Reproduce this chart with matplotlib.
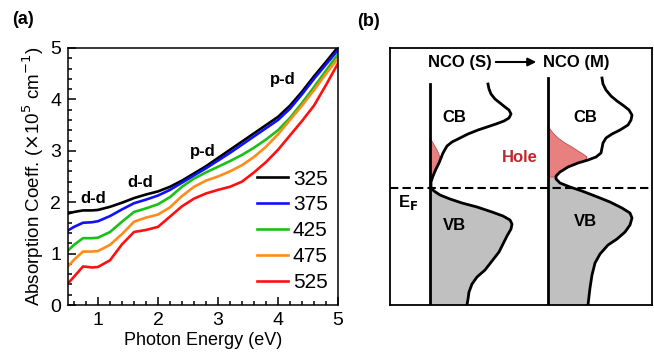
import matplotlib
matplotlib.use('Agg')
import matplotlib.pyplot as plt
from matplotlib.ticker import MultipleLocator

plt.rcParams['font.family'] = ['Liberation Sans', 'DejaVu Sans']

# ---- panel (a): absorption spectra ----
energy = [0.5, 0.6, 0.75, 0.9, 1.0, 1.2, 1.4, 1.6, 1.8, 2.0, 2.2, 2.4, 2.6,
          2.8, 3.0, 3.2, 3.4, 3.6, 3.8, 4.0, 4.2, 4.4, 4.6, 4.8, 5.0]
a325 = [1.78, 1.81, 1.84, 1.84, 1.85, 1.91, 1.99, 2.08, 2.15, 2.21, 2.30, 2.42, 2.56,
        2.70, 2.86, 3.02, 3.18, 3.34, 3.50, 3.66, 3.88, 4.15, 4.45, 4.73, 5.02]
a375 = [1.45, 1.52, 1.60, 1.61, 1.63, 1.73, 1.86, 1.98, 2.05, 2.13, 2.24, 2.38, 2.52,
        2.66, 2.81, 2.96, 3.12, 3.28, 3.44, 3.60, 3.82, 4.10, 4.40, 4.68, 4.96]
a425 = [1.06, 1.17, 1.30, 1.30, 1.31, 1.42, 1.62, 1.81, 1.88, 1.96, 2.10, 2.30, 2.46,
        2.58, 2.69, 2.80, 2.92, 3.06, 3.22, 3.40, 3.64, 3.93, 4.24, 4.56, 4.88]
a475 = [0.75, 0.88, 1.04, 1.04, 1.05, 1.17, 1.38, 1.62, 1.70, 1.76, 1.90, 2.12, 2.30,
        2.42, 2.50, 2.60, 2.72, 2.88, 3.08, 3.32, 3.60, 3.88, 4.18, 4.50, 4.80]
a525 = [0.42, 0.55, 0.75, 0.73, 0.74, 0.87, 1.18, 1.42, 1.46, 1.52, 1.72, 1.92, 2.07,
        2.17, 2.24, 2.30, 2.40, 2.58, 2.78, 3.02, 3.30, 3.58, 3.88, 4.28, 4.70]
temps = ['325', '375', '425', '475', '525']
colors = ['black', '#1010ff', '#18c018', '#ff8c1a', '#ff1010']
peaks = ['d-d', 'd-d', 'p-d', 'p-d']
peak_x = [0.92, 1.70, 2.75, 4.08]
peak_y = [2.08, 2.39, 2.98, 4.38]

# ---- panel (b): schematic DOS, drawn in box units ----
s_curve_x = [488, 489, 491, 495, 500, 505, 509, 511, 509, 504, 496, 487, 478, 468,
             460, 452, 447, 443, 441, 439, 436, 433, 431, 431, 434, 440, 450, 462,
             477, 492, 503, 510, 512, 511, 507, 503, 499, 492, 485, 477, 472, 469,
             468, 467]
s_curve_y = [84, 89, 94, 99, 103, 107, 110, 114, 118, 121, 124, 127, 130, 134,
             138, 142, 146, 153, 158, 163, 169, 176, 182, 188, 191, 195, 199, 203,
             207, 212, 216, 220, 224, 229, 236, 244, 252, 261, 270, 277, 284, 292,
             299, 305]
m_curve_x = [602, 603, 606, 611, 617, 624, 629, 632, 631, 628, 620, 612, 606, 603,
             602, 601, 596, 588, 578, 568, 560, 556, 556, 560, 570, 582, 595, 610,
             622, 630, 632, 630, 625, 617, 608, 600, 595, 592, 590, 588]
m_curve_y = [78, 84, 90, 96, 101, 106, 110, 115, 120, 125, 130, 134, 138, 143,
             148, 153, 157, 160, 163, 167, 172, 176, 179, 183, 187, 191, 196, 202,
             208, 213, 218, 225, 232, 239, 245, 254, 263, 275, 288, 305]
s_hole_x = [430, 433, 437, 440, 439, 436, 433, 431, 430]
s_hole_y = [138, 143, 150, 157, 163, 169, 176, 180, 180]
m_hole_x = [548, 550, 553, 558, 565, 572, 578, 583, 587, 586, 578, 568, 560, 556, 548]
m_hole_y = [125, 129, 133, 138, 143, 147, 151, 154, 157, 160, 163, 167, 172, 177, 177]
s_axis_x, s_axis_top = 430, 84
m_axis_x, m_axis_top = 548, 78
fermi = 188
m_vb_top = 176

fig = plt.figure(figsize=(6.54, 3.64), dpi=100)

ax = fig.add_axes([68 / 654, 1 - 305 / 364, 270 / 654, 257 / 364])
for vals, lab, c in zip([a325, a375, a425, a475, a525], temps, colors):
    ax.plot(energy, vals, color=c, lw=1.9, label=lab)
ax.set_xlim(0.5, 5)
ax.set_ylim(0, 5)
ax.xaxis.set_major_locator(MultipleLocator(1))
ax.xaxis.set_minor_locator(MultipleLocator(0.2))
ax.yaxis.set_major_locator(MultipleLocator(1))
ax.yaxis.set_minor_locator(MultipleLocator(0.2))
ax.tick_params(which='both', direction='in', labelsize=14, width=1.1)
ax.tick_params(which='major', length=6, pad=5)
ax.tick_params(which='minor', length=3)
for sp in ax.spines.values():
    sp.set_linewidth(1.1)
ax.set_xlabel('Photon Energy (eV)', fontsize=13, labelpad=2)
ax.set_ylabel(r'Absorption Coeff. ($\times$10$^5$ cm$^{-1}$)', fontsize=13.5, labelpad=3)
for t, px, py in zip(peaks, peak_x, peak_y):
    ax.text(px, py, t, fontsize=12, fontweight='bold', ha='center', va='center')
ax.legend(loc='upper left', bbox_to_anchor=(0.70, 0.527), frameon=False,
          fontsize=15, handlelength=1.5, handletextpad=0.22, labelspacing=0.33,
          borderpad=0, borderaxespad=0)
fig.text(12 / 654, 1 - 20 / 364, '(a)', fontsize=13, fontweight='bold', va='center')

bx = fig.add_axes([390 / 654, 1 - 305 / 364, 262 / 654, 257 / 364])
bx.set_xlim(390, 652)
bx.set_ylim(305, 48)
bx.set_xticks([])
bx.set_yticks([])
for sp in bx.spines.values():
    sp.set_linewidth(1.3)

# filled valence bands
s_vb = [(x, y) for x, y in zip(s_curve_x, s_curve_y) if y >= fermi]
bx.fill_betweenx([y for _, y in s_vb], s_axis_x, [x for x, _ in s_vb],
                 color='#c0c0c0', lw=0)
m_vb = [(x, y) for x, y in zip(m_curve_x, m_curve_y) if y >= m_vb_top]
bx.fill_betweenx([m_vb_top] + [y for _, y in m_vb], m_axis_x,
                 [m_vb[0][0]] + [x for x, _ in m_vb], color='#c0c0c0', lw=0)
# holes
bx.fill(s_hole_x, s_hole_y, facecolor='#e88080', edgecolor='#c05050', lw=0.6)
bx.fill(m_hole_x, m_hole_y, facecolor='#e88080', edgecolor='#c05050', lw=0.6)

bx.plot(s_curve_x, s_curve_y, color='black', lw=2, solid_joinstyle='round')
bx.plot(m_curve_x, m_curve_y, color='black', lw=2, solid_joinstyle='round')
bx.plot([s_axis_x, s_axis_x], [s_axis_top, 305], color='black', lw=2)
bx.plot([m_axis_x, m_axis_x], [m_axis_top, 305], color='black', lw=2)
bx.axhline(fermi, color='black', lw=1.5, ls=(0, (4, 2)))

bx.text(460, 62, 'NCO (S)', fontsize=12, fontweight='bold', ha='center', va='center')
bx.text(576, 62, 'NCO (M)', fontsize=12, fontweight='bold', ha='center', va='center')
bx.annotate('', xy=(539, 62), xytext=(493, 62),
            arrowprops=dict(arrowstyle='-|>', color='black', lw=1.5, mutation_scale=12))
bx.text(454, 117, 'CB', fontsize=12, fontweight='bold', ha='center', va='center')
bx.text(585, 117, 'CB', fontsize=12, fontweight='bold', ha='center', va='center')
bx.text(454, 225, 'VB', fontsize=12, fontweight='bold', ha='center', va='center')
bx.text(585, 222, 'VB', fontsize=12, fontweight='bold', ha='center', va='center')
bx.text(520, 157, 'Hole', fontsize=12, fontweight='bold', color='#c0272d',
        ha='center', va='center')
bx.text(408, 202, r'E$_\mathbf{F}$', fontsize=12, fontweight='bold', ha='center', va='center')
fig.text(357 / 654, 1 - 21 / 364, '(b)', fontsize=13, fontweight='bold', va='center')

fig.savefig('out.png', dpi=100)
